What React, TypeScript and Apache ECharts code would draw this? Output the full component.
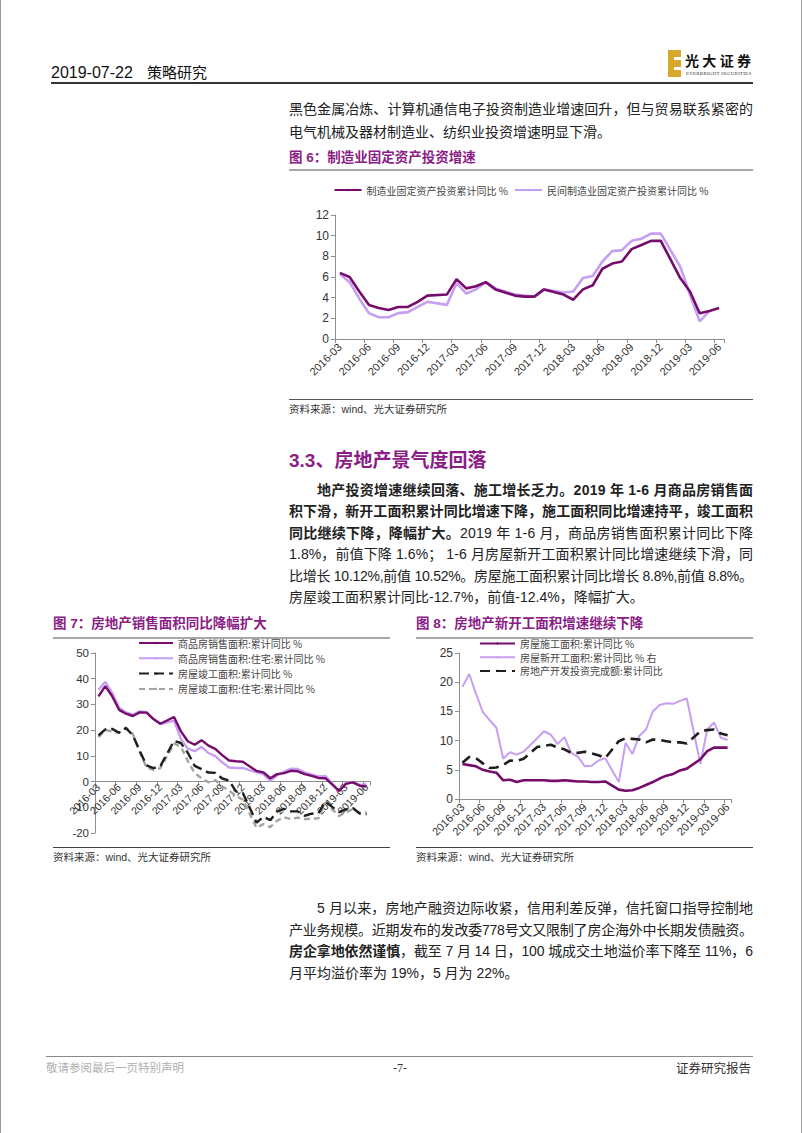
import React, { useEffect, useLayoutEffect, useRef } from "react";
import * as echarts from "echarts";

// ---------- data ----------
const months = [
  "2016-03","2016-04","2016-05","2016-06","2016-07","2016-08","2016-09","2016-10","2016-11","2016-12",
  "2017-01","2017-02","2017-03","2017-04","2017-05","2017-06","2017-07","2017-08","2017-09","2017-10","2017-11","2017-12",
  "2018-01","2018-02","2018-03","2018-04","2018-05","2018-06","2018-07","2018-08","2018-09","2018-10","2018-11","2018-12",
  "2019-01","2019-02","2019-03","2019-04","2019-05","2019-06",
];

// Fig 6
const mfgInvest = [6.4,6.0,4.6,3.3,3.0,2.8,3.1,3.1,3.6,4.2, null,4.3,5.8,4.9,5.1,5.5,4.8,4.5,4.2,4.1,4.1,4.8, null,4.3,3.8,4.8,5.2,6.8,7.3,7.5,8.7,9.1,9.5,9.5, null,5.9,4.6,2.5,2.7,3.0];
const privateMfgInvest = [6.3,5.5,3.9,2.5,2.1,2.1,2.5,2.6,3.1,3.6, null,3.3,5.4,4.4,4.8,5.5,4.9,4.6,4.3,4.2,4.1,4.8, null,4.5,4.6,5.9,6.1,7.5,8.5,8.6,9.5,9.7,10.2,10.2, null,7.0,4.3,1.7,2.7,null];

// Fig 7
const salesArea = [33.1,37.1,33.2,27.9,26.4,25.5,26.9,26.8,24.3,22.5, null,25.1,19.5,15.7,14.3,16.1,14.0,12.7,10.3,8.2,7.9,7.7, null,4.1,3.6,1.3,2.9,3.3,4.2,4.0,2.9,2.2,1.4,1.3, null,-3.6,-0.9,-0.3,-1.6,-1.8];
const resSalesArea = [35.7,38.8,34.5,28.8,26.9,26.0,27.3,27.0,24.3,22.4, null,23.7,16.5,12.8,11.8,13.5,11.1,9.9,7.5,5.5,5.3,5.3, null,3.6,2.9,0.3,2.4,3.8,5.0,4.9,3.6,2.8,2.0,2.2, null,-3.9,-0.5,-0.2,-1.3,-1.0];
const completedArea = [18.0,20.3,20.5,19.0,20.8,18.0,12.0,6.3,5.2,6.0, null,15.8,15.0,11.2,6.1,4.8,3.5,3.4,1.2,0.4,-3.8,-4.4, null,-16.0,-13.7,-15.0,-11.6,-10.6,-11.6,-11.6,-13.3,-12.5,-12.3,-7.8, null,-11.9,-10.8,-10.3,-12.4,-12.7];
const resCompletedArea = [17.3,20.0,19.5,19.0,21.0,18.5,11.5,5.5,4.5,5.2, null,14.8,13.5,8.0,3.3,1.3,-0.3,0.6,-1.9,-3.5,-5.6,-7.0, null,-18.0,-16.5,-17.7,-15.2,-13.9,-14.6,-14.0,-14.6,-14.4,-14.3,-8.1, null,-13.4,-11.9,-10.7,-12.3,-12.0];

// Fig 8
const constructionArea = [6.0,5.8,5.6,5.0,4.7,4.5,3.2,3.3,2.9,3.2, null,3.2,3.2,3.1,3.1,3.2,3.1,3.0,3.0,2.9,2.9,3.0, null,1.6,1.4,1.5,1.9,2.4,2.9,3.5,4.0,4.3,4.9,5.2, null,6.8,8.2,8.8,8.8,8.8];
const newStartArea = [19.2,21.4,18.0,14.9,13.5,12.2,6.9,8.0,7.6,8.1, null,10.4,11.6,11.0,9.4,10.6,7.9,7.2,5.6,5.7,6.6,7.0, null,2.9,9.6,7.7,10.8,11.9,15.0,16.1,16.4,16.3,16.8,17.2, null,6.0,11.9,13.1,10.5,10.1];
const devInvestment = [6.2,7.2,7.0,6.1,5.3,5.4,5.8,6.6,6.5,6.9, null,8.9,9.1,9.3,8.8,8.5,7.9,7.9,8.1,7.8,7.5,7.0, null,9.9,10.4,10.3,10.2,9.7,10.2,10.1,9.9,9.7,9.7,9.5, null,11.6,11.8,11.9,11.2,10.9];

// axis ranges
const range6 = { min: 0, max: 12, interval: 2 };
const range7 = { min: -20, max: 50, interval: 10 };
const range8 = { min: 0, max: 25, interval: 5 };

// series names
const names6 = ["制造业固定资产投资累计同比 %", "民间制造业固定资产投资累计同比 %"];
const names7 = ["商品房销售面积:累计同比 %", "商品房销售面积:住宅:累计同比 %", "房屋竣工面积:累计同比 %", "房屋竣工面积:住宅:累计同比 %"];
const names8 = ["房屋施工面积:累计同比 %", "房屋新开工面积:累计同比 % 右", "房地产开发投资完成额:累计同比"];

// ---------- styles ----------
const LATIN = '"Liberation Sans", Arial, sans-serif';
const CJK = '"Noto Sans CJK SC", sans-serif';
const FONT = '"Liberation Sans", Arial, "Noto Sans CJK SC", sans-serif';
const PURPLE = "#8a1d86";
const DARK = "#760c6b";
const LIGHT = "#c69ef2";
const BLACK = "#1e1e1e";
const GRAY = "#a3a3a3";
const AXIS = "#8f8f8f";

const ICON_LONG_DASH = "path://M0,0h11v3h-11z M17,0h11v3h-11z";
const ICON_SHORT_DASH = "path://M0,0h6v3h-6z M9,0h6v3h-6z M18,0h6v3h-6z M27,0h6v3h-6z";

function line(name: string, data: (number | null)[], color: string, width: number, dash?: number[], z = 2, icon = "rect") {
  return {
    name,
    type: "line",
    data,
    symbol: "none",
    showSymbol: false,
    legendIcon: icon,
    connectNulls: true,
    z,
    itemStyle: { color },
    lineStyle: { color, width, type: dash ? dash : "solid", cap: "butt" },
  };
}

// offset moves the category axis (line, ticks, labels) up to the value 0 of the y axis
function xAxisCfg(fontSize: number, margin: number, offset = 0) {
  return {
    type: "category",
    data: months,
    boundaryGap: true,
    position: "bottom",
    offset,
    axisLine: { show: true, onZero: false, lineStyle: { color: AXIS, width: 1 } },
    axisTick: { show: true, interval: 2, length: 4, lineStyle: { color: AXIS } },
    axisLabel: { interval: 2, rotate: 45, fontSize, color: "#333", fontFamily: LATIN, margin },
    splitLine: { show: false },
  };
}

function yAxisCfg(r: { min: number; max: number; interval: number }, fontSize: number) {
  return {
    type: "value",
    min: r.min,
    max: r.max,
    interval: r.interval,
    axisLine: { show: true, lineStyle: { color: AXIS, width: 1 } },
    axisTick: { show: true, length: 4, lineStyle: { color: AXIS } },
    axisLabel: { fontSize, color: "#333", fontFamily: LATIN, margin: 6 },
    splitLine: { show: false },
  };
}

const legendText = { fontSize: 10, color: "#444", fontFamily: CJK, lineHeight: 12 };

const option6 = {
  animation: false,
  textStyle: { fontFamily: CJK },
  grid: { left: 46, right: 29, top: 40, bottom: 60, containLabel: false, outerBoundsMode: "none" },
  legend: {
    top: 4,
    left: "center",
    itemWidth: 27,
    itemHeight: 3,
    itemGap: 6,
    data: names6,
    textStyle: legendText,
  },
  xAxis: xAxisCfg(11, 6),
  yAxis: yAxisCfg(range6, 12),
  series: [
    line(names6[1], privateMfgInvest, LIGHT, 2.6, undefined, 2),
    line(names6[0], mfgInvest, DARK, 2.6, undefined, 3),
  ],
};

const CH_TOP = 631;
const CH_H = 216;
const GRID7 = { left: 42, right: 20, top: 22, bottom: 14 };
const grid7Height = CH_H - GRID7.top - GRID7.bottom;
const zeroOffset7 = -grid7Height * (0 - range7.min) / (range7.max - range7.min);

const option7 = {
  animation: false,
  textStyle: { fontFamily: CJK },
  grid: { ...GRID7, containLabel: false, outerBoundsMode: "none" },
  legend: {
    orient: "vertical",
    left: 85,
    top: 6,
    padding: 0,
    itemWidth: 34,
    itemHeight: 3,
    itemGap: 3.3,
    data: names7,
    textStyle: legendText,
  },
  xAxis: xAxisCfg(10.5, 4, zeroOffset7),
  yAxis: yAxisCfg(range7, 11.5),
  series: [
    line(names7[3], resCompletedArea, GRAY, 2.4, [6, 4], 2, ICON_SHORT_DASH),
    line(names7[2], completedArea, BLACK, 2.4, [10, 5], 3, ICON_LONG_DASH),
    line(names7[1], resSalesArea, LIGHT, 2.4, undefined, 4),
    line(names7[0], salesArea, DARK, 2.4, undefined, 5),
  ],
};

const option8 = {
  animation: false,
  textStyle: { fontFamily: CJK },
  grid: { left: 43, right: 22, top: 22, bottom: 48, containLabel: false, outerBoundsMode: "none" },
  legend: {
    orient: "vertical",
    left: 63,
    top: 6.5,
    padding: 0,
    itemWidth: 35,
    itemHeight: 3,
    itemGap: 1.7,
    data: names8,
    textStyle: legendText,
  },
  xAxis: xAxisCfg(11, 6),
  yAxis: yAxisCfg(range8, 12),
  series: [
    line(names8[1], newStartArea, LIGHT, 2, undefined, 2),
    line(names8[2], devInvestment, BLACK, 2.6, [10, 6], 3, ICON_LONG_DASH),
    line(names8[0], constructionArea, DARK, 2.6, undefined, 4),
  ],
};

// ---------- components ----------
function Chart({ option, left, top, width, height }: any) {
  const ref = useRef<HTMLDivElement>(null);
  useEffect(() => {
    const chart = echarts.init(ref.current as HTMLDivElement, null, { renderer: "svg" });
    chart.setOption(option);
    return () => chart.dispose();
  }, []);
  return <div ref={ref} style={{ position: "absolute", left, top, width, height }} />;
}

function Txt({ x, y, w, size = 14, bold, color = "#222", family = FONT, children, right }: any) {
  const ref = useRef<HTMLSpanElement>(null);
  useLayoutEffect(() => {
    const adjust = () => {
      const el = ref.current;
      if (!el || !w) return;
      el.style.letterSpacing = "0px";
      const natural = el.getBoundingClientRect().width;
      const n = (el.textContent || "").length;
      if (n > 1) el.style.letterSpacing = (w - natural) / (n - 1) + "px";
    };
    adjust();
    const fonts: any = (document as any).fonts;
    if (fonts && fonts.ready) fonts.ready.then(adjust);
  }, []);
  const pos: any = right !== undefined ? { right } : { left: x };
  return (
    <div
      style={{
        position: "absolute",
        ...pos,
        top: y - 11,
        height: 22,
        lineHeight: "22px",
        whiteSpace: "nowrap",
        fontSize: size,
        fontWeight: bold ? 700 : 400,
        color,
        fontFamily: family,
      }}
    >
      <span ref={ref}>{children}</span>
    </div>
  );
}

function Rule({ x, y, w, h, color }: any) {
  return <div style={{ position: "absolute", left: x, top: y, width: w, height: h, background: color }} />;
}

const SRC = "资料来源：wind、光大证券研究所";

export default function App() {
  useEffect(() => {
    document.body.style.margin = "0";
  }, []);
  return (
    <div
      style={{
        position: "absolute",
        left: 0,
        top: 0,
        width: 802,
        height: 1133,
        background: "#fff",
        boxSizing: "border-box",
        borderLeft: "1px solid #9a9a9a",
        borderRight: "1px solid #9a9a9a",
        overflow: "hidden",
      }}
    >
      {/* header */}
      <Txt x={50} y={73} size={16} color="#111">2019-07-22</Txt>
      <Txt x={146} y={73} size={15} color="#111">策略研究</Txt>
      <Rule x={50} y={82} w={702} h={1.5} color="#333" />
      <svg style={{ position: "absolute", left: 667, top: 50 }} width={14} height={28}>
        <rect x={0} y={0} width={13} height={27} fill="#d7a82b" />
        <rect x={6} y={7} width={7} height={3} fill="#fff" />
        <rect x={6} y={17} width={7} height={3} fill="#fff" />
      </svg>
      <Txt x={684} y={60} size={14} bold color="#111" family={CJK} w={66}>光大证券</Txt>
      <div style={{ position: "absolute", left: 685, top: 71, fontSize: 5, lineHeight: "6px", fontFamily: '"Liberation Serif", serif', color: "#333", whiteSpace: "nowrap", letterSpacing: "0.2px" }}>
        EVERBRIGHT SECURITIES
      </div>

      {/* top paragraph */}
      <Txt x={288} y={109} w={464}>黑色金属冶炼、计算机通信电子投资制造业增速回升，但与贸易联系紧密的</Txt>
      <Txt x={288} y={131.5}>电气机械及器材制造业、纺织业投资增速明显下滑。</Txt>

      {/* figure 6 */}
      <Txt x={288} y={158} size={13.5} bold color={PURPLE}>图 6：制造业固定资产投资增速</Txt>
      <Rule x={288} y={169} w={464} h={2} color="#a8a8a8" />
      <Chart option={option6} left={288} top={175} width={464} height={224} />
      <Rule x={288} y={398.5} w={464} h={1.5} color="#555" />
      <Txt x={288} y={409} size={10.5} color="#333">{SRC}</Txt>

      {/* section 3.3 */}
      <Txt x={288} y={461} size={19} bold color={PURPLE}>3.3、房地产景气度回落</Txt>
      <Txt x={316} y={489.5} w={436} bold>地产投资增速继续回落、施工增长乏力。2019 年 1-6 月商品房销售面</Txt>
      <Txt x={288} y={511} w={464} bold>积下滑，新开工面积累计同比增速下降，施工面积同比增速持平，竣工面积</Txt>
      <Txt x={288} y={532.5} w={464}><b>同比继续下降，降幅扩大。</b>2019 年 1-6 月，商品房销售面积累计同比下降</Txt>
      <Txt x={288} y={554} w={464}>1.8%，前值下降 1.6%； 1-6 月房屋新开工面积累计同比增速继续下滑，同</Txt>
      <Txt x={288} y={575.5} w={464}>比增长 10.12%,前值 10.52%。房屋施工面积累计同比增长 8.8%,前值 8.8%。</Txt>
      <Txt x={288} y={597}>房屋竣工面积累计同比-12.7%，前值-12.4%，降幅扩大。</Txt>

      {/* figure 7 */}
      <Txt x={52} y={624} size={13.5} bold color={PURPLE}>图 7：房地产销售面积同比降幅扩大</Txt>
      <Rule x={52} y={637} w={337} h={2} color="#a8a8a8" />
      <Chart option={option7} left={52} top={CH_TOP} width={337} height={CH_H} />
      <Rule x={52} y={846.5} w={337} h={1.5} color="#444" />
      <Txt x={52} y={857} size={10.5} color="#333">{SRC}</Txt>

      {/* figure 8 */}
      <Txt x={415} y={624} size={13.5} bold color={PURPLE}>图 8：房地产新开工面积增速继续下降</Txt>
      <Rule x={415} y={637} w={337} h={2} color="#a8a8a8" />
      <Chart option={option8} left={415} top={CH_TOP} width={337} height={CH_H} />
      <Rule x={415} y={846.5} w={337} h={1.5} color="#444" />
      <Txt x={415} y={857} size={10.5} color="#333">{SRC}</Txt>

      {/* bottom paragraph */}
      <Txt x={316} y={908} w={436}>5 月以来，房地产融资边际收紧，信用利差反弹，信托窗口指导控制地</Txt>
      <Txt x={288} y={929.5} w={464}>产业务规模。近期发布的发改委778号文又限制了房企海外中长期发债融资。</Txt>
      <Txt x={288} y={951} w={464}><b>房企拿地依然谨慎</b>，截至 7 月 14 日，100 城成交土地溢价率下降至 11%，6</Txt>
      <Txt x={288} y={972.5}>月平均溢价率为 19%，5 月为 22%。</Txt>

      {/* footer */}
      <Rule x={45} y={1055.5} w={707} h={1.5} color="#8a8a8a" />
      <Txt x={45} y={1067} size={11.5} color="#b0b0b0" family={CJK}>敬请参阅最后一页特别声明</Txt>
      <Txt x={392} y={1068} size={12} color="#333" family='"Liberation Serif", serif'>-7-</Txt>
      <Txt right={50} y={1068} size={12.5} color="#333" family={CJK}>证券研究报告</Txt>
    </div>
  );
}
